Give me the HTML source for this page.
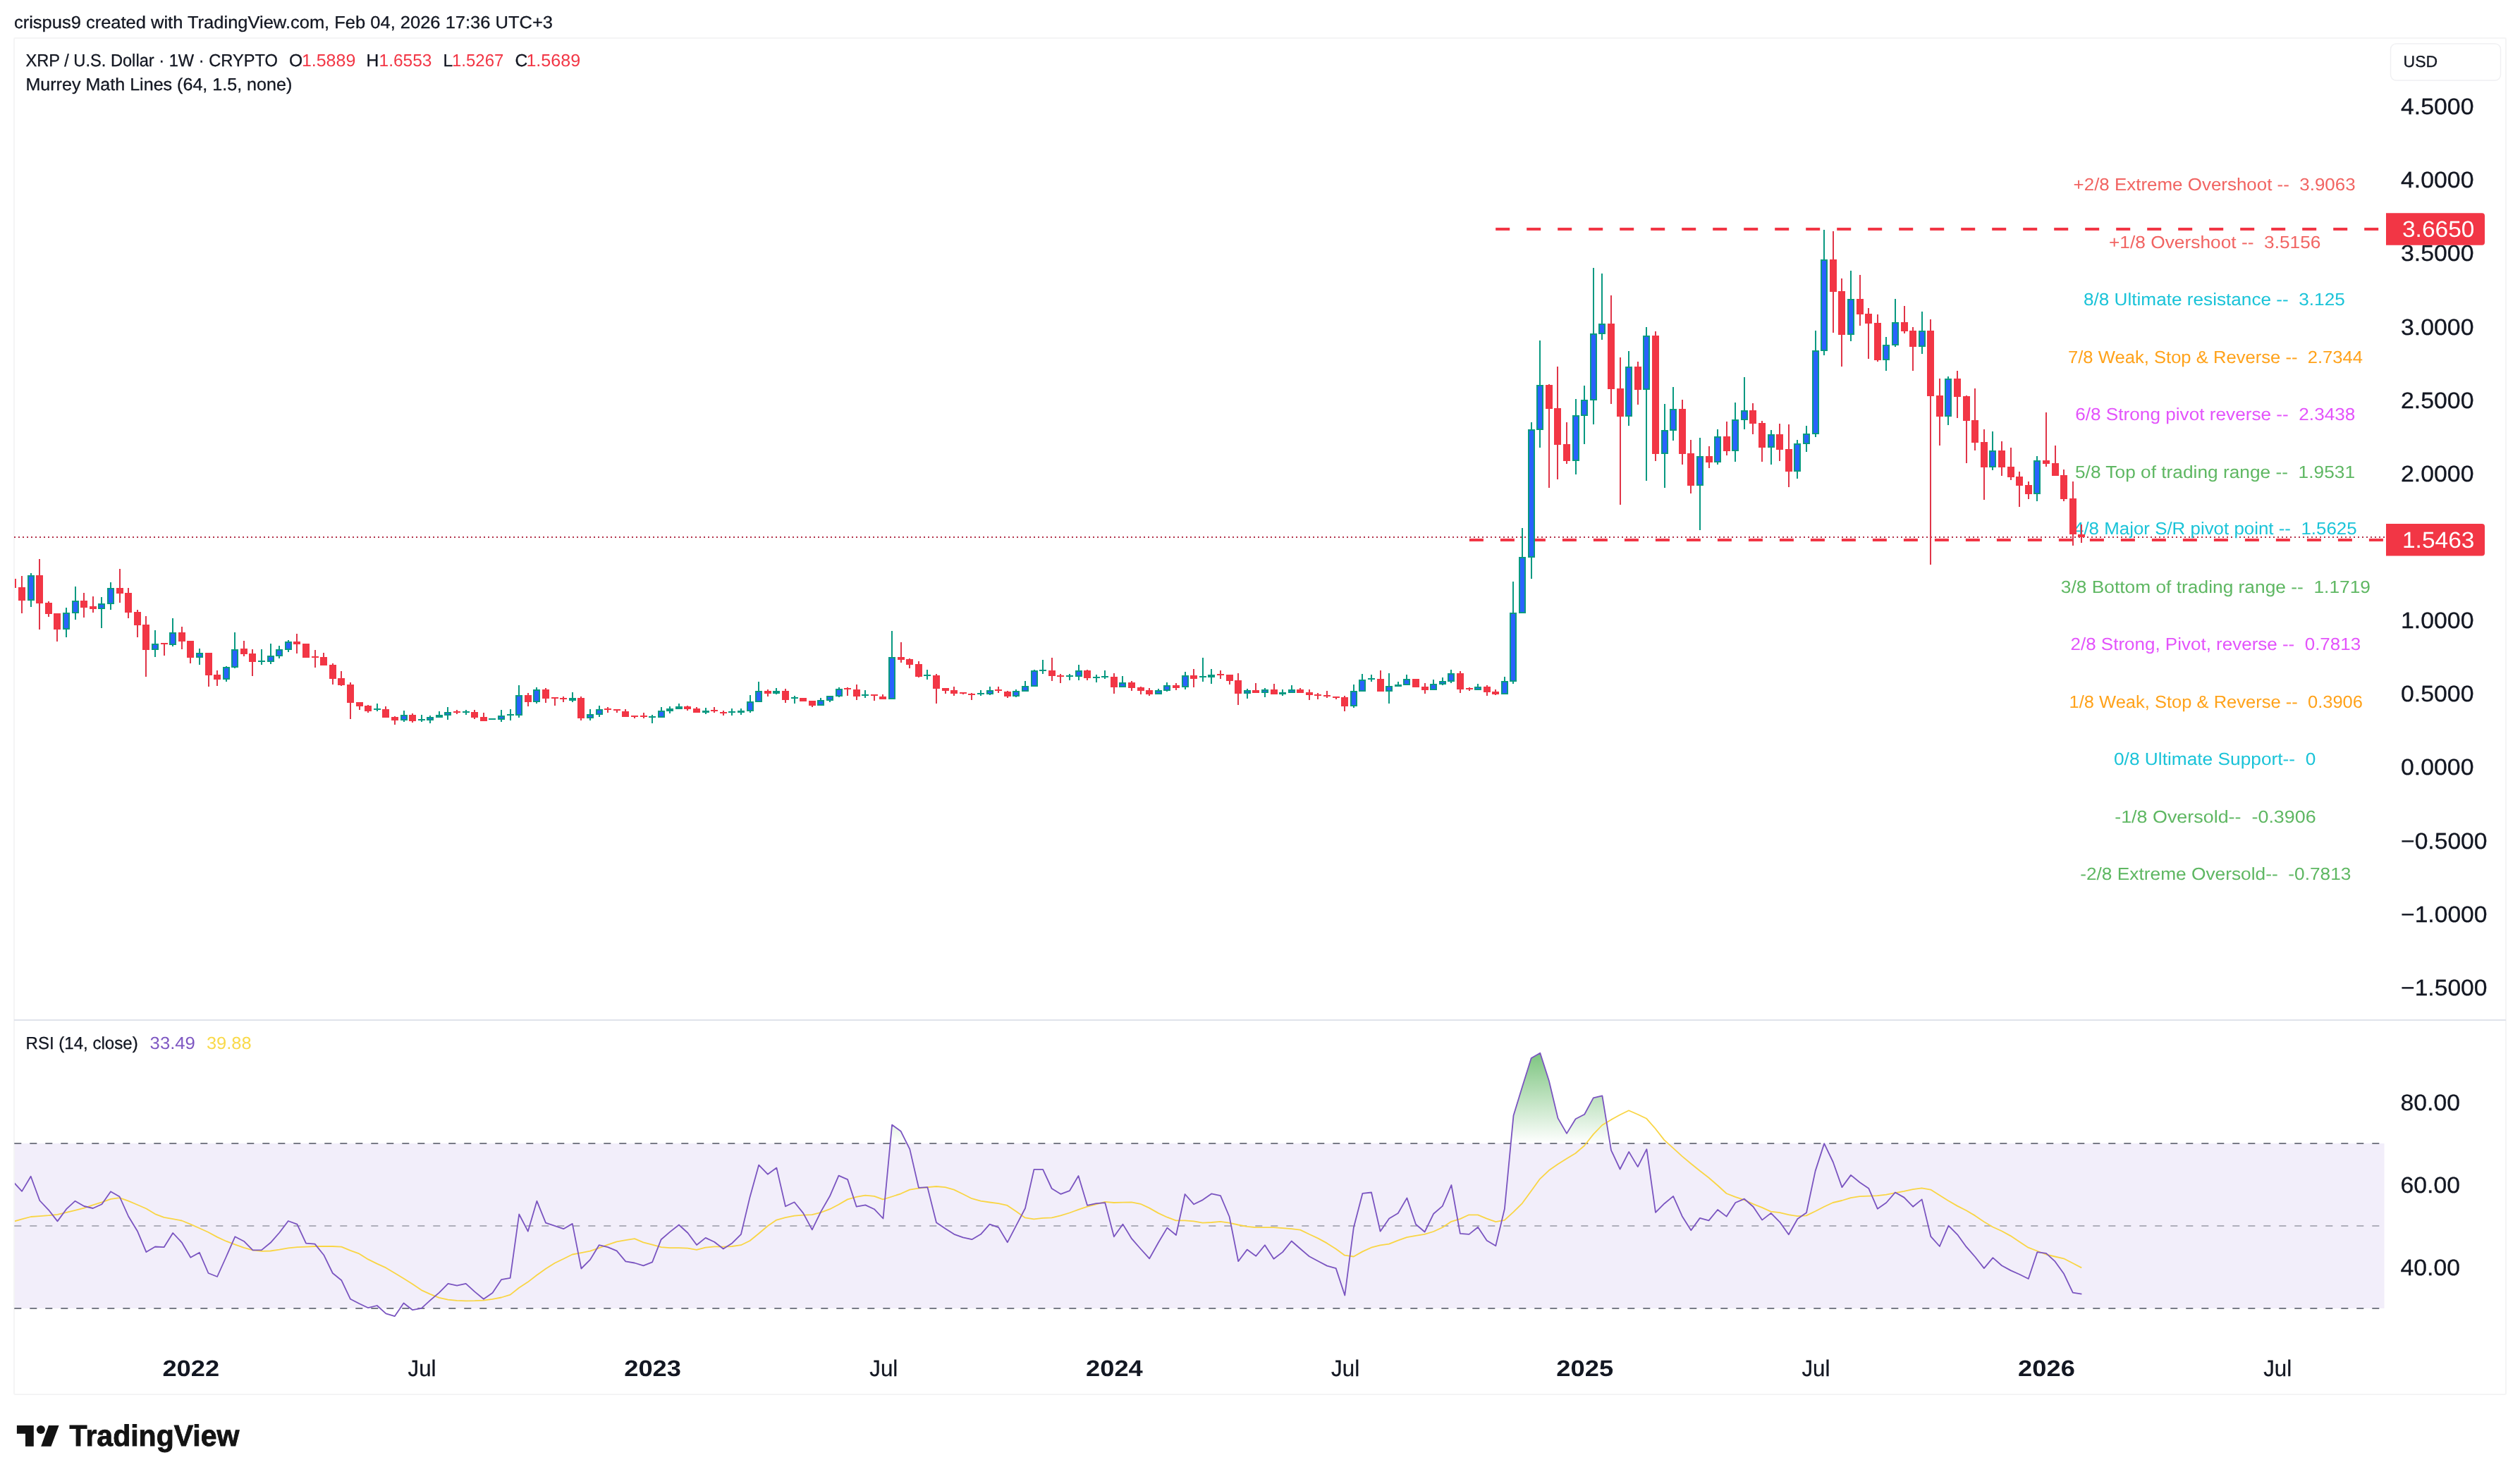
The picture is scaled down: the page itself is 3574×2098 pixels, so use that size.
<!DOCTYPE html>
<html lang="en"><head><meta charset="utf-8"><title>XRP / U.S. Dollar - TradingView</title>
<style>html,body{margin:0;padding:0;background:#fff}body{width:3574px;height:2098px;overflow:hidden}svg{display:block;will-change:transform}</style>
</head><body>
<svg width="3574" height="2098" viewBox="0 0 3574 2098" font-family='"Liberation Sans", sans-serif' text-rendering="geometricPrecision" style="white-space:pre">
<rect x="20" y="54" width="3534" height="1924" fill="#fff" stroke="#f4f4f5" stroke-width="2" rx="2"/>
<text x="19.9" y="39.7" font-size="24.6" fill="#131722" stroke="#131722" stroke-width="0.3" textLength="764.1" lengthAdjust="spacingAndGlyphs" xml:space="preserve">crispus9 created with TradingView.com, Feb 04, 2026 17:36 UTC+3</text>
<rect x="20" y="1446" width="3534" height="2" fill="#e0e3eb"/>
<rect x="21" y="1621.9" width="3360.5" height="234.0" fill="#f2eefa"/>
<clipPath id="cp"><rect x="21" y="55" width="3360.5" height="1924"/></clipPath>
<linearGradient id="gg" gradientUnits="userSpaceOnUse" x1="0" y1="1446" x2="0" y2="1622"><stop offset="0" stop-color="#4caf50" stop-opacity="1"/><stop offset="1" stop-color="#4caf50" stop-opacity="0"/></linearGradient>
<polygon fill="url(#gg)" points="1262.6,1621.9 1265.1,1595.6 1277.7,1604.8 1286.2,1621.9"/>
<polygon fill="url(#gg)" points="2142.8,1621.9 2146.5,1582.6 2159.1,1541.3 2171.7,1501.0 2184.3,1493.7 2196.9,1533.2 2209.5,1586.1 2222.0,1607.9 2234.6,1587.2 2247.2,1580.8 2259.8,1557.4 2272.4,1554.4 2283.4,1621.9"/>
<line x1="20.3" y1="1621.9" x2="3376" y2="1621.9" stroke="#787b86" stroke-width="2" stroke-dasharray="10 12"/>
<line x1="20.3" y1="1738.9" x2="3376" y2="1738.9" stroke="#787b86" stroke-opacity="0.55" stroke-width="2" stroke-dasharray="10 12"/>
<line x1="20.3" y1="1855.9" x2="3376" y2="1855.9" stroke="#787b86" stroke-width="2" stroke-dasharray="10 12"/>
<g clip-path="url(#cp)">
<polyline fill="none" stroke="#f9d544" stroke-width="1.8" stroke-linejoin="round" points="18.5,1732.9 31.1,1729.4 43.8,1726.0 56.2,1725.1 68.9,1724.1 81.5,1722.8 94.1,1719.8 106.6,1716.8 119.2,1713.6 131.8,1709.4 144.5,1705.3 157.1,1700.9 169.5,1699.1 182.2,1703.7 194.8,1709.0 207.5,1714.5 219.9,1722.1 232.5,1726.9 245.2,1729.2 257.8,1731.5 270.2,1736.6 282.9,1742.3 295.5,1748.0 308.2,1754.9 320.8,1760.7 333.2,1765.3 345.9,1769.9 358.5,1773.3 371.1,1774.9 383.6,1774.5 396.2,1772.6 408.9,1770.3 421.5,1769.2 433.9,1768.7 446.6,1768.0 459.2,1768.0 471.8,1768.0 484.3,1768.7 496.9,1773.8 509.4,1778.4 522.1,1786.4 534.7,1792.6 547.4,1798.4 560.0,1806.0 572.4,1813.6 585.1,1821.6 597.7,1830.1 610.3,1835.9 622.8,1840.9 635.4,1843.7 648.0,1844.8 660.7,1845.3 673.3,1845.1 685.7,1844.6 698.4,1842.8 711.0,1840.5 723.7,1836.6 736.1,1826.7 748.7,1818.6 761.4,1808.7 774.0,1799.8 786.7,1791.7 799.1,1785.7 811.7,1779.5 824.4,1777.2 837.0,1774.7 849.4,1770.3 862.1,1765.7 874.7,1761.4 887.4,1759.1 900.0,1757.2 912.4,1762.3 925.1,1765.7 937.7,1769.2 950.3,1770.1 962.8,1770.1 975.4,1770.6 988.0,1772.9 1000.6,1769.7 1013.2,1768.3 1025.6,1768.7 1038.3,1768.0 1050.9,1766.2 1063.6,1760.0 1076.2,1749.7 1088.6,1739.3 1101.3,1730.6 1113.9,1727.1 1126.6,1724.6 1139.0,1723.7 1151.6,1723.2 1164.3,1719.8 1176.9,1715.2 1189.3,1708.7 1202.0,1701.4 1214.6,1697.9 1227.2,1695.6 1239.9,1696.8 1252.3,1701.4 1264.9,1697.5 1277.6,1693.3 1290.2,1687.6 1302.6,1685.7 1315.3,1684.1 1327.9,1683.0 1340.6,1684.1 1353.0,1687.6 1365.6,1693.8 1378.3,1700.2 1390.9,1703.7 1403.6,1705.5 1416.0,1707.1 1428.6,1709.9 1441.3,1718.6 1453.9,1727.4 1466.3,1729.4 1479.0,1727.8 1491.7,1727.4 1504.1,1724.4 1516.8,1720.5 1529.4,1715.9 1542.1,1711.7 1554.5,1708.3 1567.1,1704.8 1579.8,1706.0 1592.4,1705.7 1604.8,1705.3 1617.5,1707.8 1630.1,1713.6 1642.8,1720.9 1655.4,1726.7 1667.8,1731.3 1680.5,1731.3 1693.1,1732.4 1705.7,1734.7 1718.2,1734.0 1730.8,1732.9 1743.4,1734.7 1756.1,1737.5 1768.5,1739.8 1781.1,1741.1 1793.8,1741.1 1806.4,1741.1 1819.1,1742.1 1831.5,1743.2 1844.1,1744.6 1856.8,1750.8 1869.4,1756.6 1881.8,1763.4 1894.5,1771.5 1907.1,1780.7 1919.8,1782.5 1932.4,1775.4 1944.8,1769.7 1957.5,1766.4 1970.0,1764.7 1982.6,1759.7 1995.3,1755.1 2007.9,1752.8 2020.3,1750.9 2033.0,1747.0 2045.6,1741.3 2058.3,1732.8 2070.7,1729.1 2083.3,1723.3 2096.0,1723.3 2108.6,1728.6 2121.3,1733.2 2133.7,1730.9 2146.3,1719.4 2159.0,1706.8 2171.6,1689.5 2184.0,1672.3 2196.7,1660.3 2209.3,1651.6 2222.0,1643.6 2234.4,1636.0 2247.0,1625.2 2259.7,1609.1 2272.3,1596.0 2284.9,1588.4 2297.4,1581.5 2310.0,1575.3 2322.6,1580.8 2335.3,1586.8 2347.7,1601.0 2360.3,1617.1 2373.0,1628.6 2385.6,1640.1 2398.0,1650.5 2410.7,1660.8 2423.3,1670.5 2436.0,1681.5 2448.6,1693.0 2461.1,1697.9 2473.8,1702.1 2486.2,1707.8 2498.9,1712.9 2511.5,1718.6 2524.1,1720.2 2536.8,1723.2 2549.2,1725.1 2561.8,1724.4 2574.5,1718.2 2587.1,1711.7 2599.5,1706.0 2612.2,1703.0 2624.8,1699.1 2637.5,1697.2 2649.9,1696.6 2662.5,1696.1 2675.2,1694.7 2687.8,1692.2 2700.2,1689.9 2712.9,1687.1 2725.5,1685.3 2738.2,1687.6 2750.8,1695.6 2763.2,1703.2 2775.9,1710.6 2788.5,1717.0 2801.1,1724.4 2813.6,1732.9 2826.2,1740.5 2838.9,1746.2 2851.5,1753.1 2864.1,1761.6 2876.6,1769.7 2889.2,1774.5 2901.8,1779.5 2914.5,1782.5 2926.9,1785.3 2939.5,1791.7 2952.2,1798.4"/>
<polyline fill="none" stroke="#7a54c0" stroke-width="1.8" stroke-linejoin="round" points="18.5,1676.1 31.1,1689.9 43.7,1668.7 56.3,1703.0 68.9,1716.3 81.5,1732.4 94.1,1715.2 106.6,1703.7 119.2,1711.0 131.8,1714.0 144.4,1708.3 157.0,1690.3 169.6,1697.5 182.2,1725.5 194.8,1746.2 207.4,1776.1 220.0,1768.5 232.6,1769.2 245.2,1749.0 257.7,1762.3 270.3,1783.7 282.9,1776.8 295.5,1806.0 308.1,1811.0 320.7,1783.0 333.3,1754.3 345.9,1760.7 358.5,1773.3 371.1,1773.1 383.7,1762.8 396.3,1748.5 408.8,1732.0 421.4,1736.6 434.0,1763.7 446.6,1764.6 459.2,1780.2 471.8,1806.0 484.4,1816.3 497.0,1842.8 509.6,1849.2 522.2,1855.2 534.8,1852.0 547.4,1863.4 559.9,1867.1 572.5,1848.5 585.1,1858.2 597.7,1855.9 610.3,1844.4 622.9,1833.6 635.5,1820.9 648.1,1823.7 660.7,1820.9 673.3,1832.4 685.9,1842.8 698.5,1834.0 711.0,1815.2 723.6,1812.9 736.2,1722.5 748.8,1746.7 761.4,1703.7 774.0,1734.7 786.6,1738.9 799.2,1743.2 811.8,1735.9 824.4,1799.5 837.0,1786.9 849.6,1766.2 862.1,1769.2 874.7,1774.3 887.3,1789.4 899.9,1791.5 912.5,1795.4 925.1,1790.3 937.7,1758.2 950.3,1747.4 962.9,1737.5 975.5,1749.0 988.1,1766.0 1000.7,1755.9 1013.2,1761.8 1025.8,1771.5 1038.4,1763.4 1051.0,1750.8 1063.6,1697.9 1076.2,1652.6 1088.8,1665.7 1101.4,1656.6 1114.0,1711.3 1126.6,1705.3 1139.2,1720.9 1151.8,1744.4 1164.3,1718.6 1176.9,1696.8 1189.5,1667.6 1202.1,1673.1 1214.7,1711.7 1227.3,1709.4 1239.9,1715.2 1252.5,1728.5 1265.1,1595.6 1277.7,1604.8 1290.3,1630.1 1302.9,1684.8 1315.4,1684.1 1328.0,1734.3 1340.6,1742.8 1353.2,1750.8 1365.8,1755.4 1378.4,1758.2 1391.0,1750.8 1403.6,1736.6 1416.2,1741.1 1428.8,1762.3 1441.4,1738.2 1454.0,1714.0 1466.5,1658.9 1479.1,1658.9 1491.7,1686.0 1504.3,1693.8 1516.9,1689.2 1529.5,1668.0 1542.1,1709.9 1554.7,1707.1 1567.3,1706.2 1579.9,1754.3 1592.5,1736.6 1605.1,1757.2 1617.6,1771.5 1630.2,1785.3 1642.8,1762.8 1655.4,1741.6 1668.0,1752.0 1680.6,1694.0 1693.2,1708.3 1705.8,1702.1 1718.4,1693.3 1731.0,1696.1 1743.6,1726.0 1756.2,1789.2 1768.7,1772.6 1781.3,1781.8 1793.9,1766.2 1806.5,1785.7 1819.1,1776.1 1831.7,1760.5 1844.3,1771.5 1856.9,1782.3 1869.5,1789.0 1882.1,1795.6 1894.7,1799.1 1907.3,1837.5 1919.8,1741.6 1932.4,1692.9 1945.0,1691.5 1957.6,1746.7 1970.2,1728.6 1982.8,1721.0 1995.4,1699.4 2008.0,1736.7 2020.6,1747.5 2033.2,1721.7 2045.8,1710.9 2058.4,1681.0 2070.9,1749.8 2083.5,1750.9 2096.1,1740.8 2108.7,1759.7 2121.3,1767.2 2133.9,1714.8 2146.5,1582.6 2159.1,1541.3 2171.7,1501.0 2184.3,1493.7 2196.9,1533.2 2209.5,1586.1 2222.0,1607.9 2234.6,1587.2 2247.2,1580.8 2259.8,1557.4 2272.4,1554.4 2285.0,1631.6 2297.6,1658.5 2310.2,1633.9 2322.8,1655.1 2335.4,1630.2 2348.0,1719.9 2360.6,1707.2 2373.1,1696.9 2385.7,1725.2 2398.3,1745.2 2410.9,1727.9 2423.5,1731.4 2436.1,1716.0 2448.7,1725.6 2461.3,1706.0 2473.9,1700.7 2486.5,1711.7 2499.1,1730.6 2511.7,1720.9 2524.2,1733.6 2536.8,1751.3 2549.4,1729.0 2562.0,1720.2 2574.6,1661.1 2587.2,1622.1 2599.8,1648.5 2612.4,1684.1 2625.0,1666.9 2637.6,1677.2 2650.2,1685.7 2662.8,1714.7 2675.3,1706.0 2687.9,1691.5 2700.5,1698.6 2713.1,1711.7 2725.7,1701.4 2738.3,1753.8 2750.9,1768.0 2763.5,1738.6 2776.1,1751.3 2788.7,1768.7 2801.3,1783.0 2813.9,1799.1 2826.4,1784.1 2839.0,1795.2 2851.6,1802.1 2864.2,1807.8 2876.8,1814.0 2889.4,1776.1 2902.0,1777.9 2914.6,1789.4 2927.2,1807.1 2939.8,1833.6 2952.4,1835.6"/>
</g>
<line x1="20" y1="762" x2="3382" y2="762" stroke="#b3324a" stroke-width="2" stroke-dasharray="2 4" shape-rendering="crispEdges"/>
<path d="M2121.2 325.0H2141.2M2165.2 325.0H2185.2M2209.2 325.0H2229.2M2253.2 325.0H2273.2M2297.2 325.0H2317.2M2341.2 325.0H2361.2M2385.2 325.0H2405.2M2429.2 325.0H2449.2M2473.2 325.0H2493.2M2517.2 325.0H2537.2M2561.2 325.0H2581.2M2605.2 325.0H2625.2M2649.2 325.0H2669.2M2693.2 325.0H2713.2M2737.2 325.0H2757.2M2781.2 325.0H2801.2M2825.2 325.0H2845.2M2869.2 325.0H2889.2M2913.2 325.0H2933.2M2957.2 325.0H2977.2M3001.2 325.0H3021.2M3045.2 325.0H3065.2M3089.2 325.0H3109.2M3133.2 325.0H3153.2M3177.2 325.0H3197.2M3221.2 325.0H3241.2M3265.2 325.0H3285.2M3309.2 325.0H3329.2M3353.2 325.0H3373.2" stroke="#f23645" stroke-width="4" fill="none"/>
<path d="M2083.9 766.0H2103.9M2127.9 766.0H2147.9M2171.9 766.0H2191.9M2215.9 766.0H2235.9M2259.9 766.0H2279.9M2303.9 766.0H2323.9M2347.9 766.0H2367.9M2391.9 766.0H2411.9M2435.9 766.0H2455.9M2479.9 766.0H2499.9M2523.9 766.0H2543.9M2567.9 766.0H2587.9M2611.9 766.0H2631.9M2655.9 766.0H2675.9M2699.9 766.0H2719.9M2743.9 766.0H2763.9M2787.9 766.0H2807.9M2831.9 766.0H2851.9M2875.9 766.0H2895.9M2919.9 766.0H2939.9M2963.9 766.0H2983.9M3007.9 766.0H3027.9M3051.9 766.0H3071.9M3095.9 766.0H3115.9M3139.9 766.0H3159.9M3183.9 766.0H3203.9M3227.9 766.0H3247.9M3271.9 766.0H3291.9M3315.9 766.0H3335.9M3359.9 766.0H3379.9" stroke="#f23645" stroke-width="4" fill="none"/>
<text x="2940.6" y="270.0" font-size="24.7" fill="#f16462" textLength="400.0" lengthAdjust="spacingAndGlyphs" xml:space="preserve">+2/8 Extreme Overshoot --  3.9063</text>
<text x="2991.0" y="351.5" font-size="24.7" fill="#f16462" textLength="300.5" lengthAdjust="spacingAndGlyphs" xml:space="preserve">+1/8 Overshoot --  3.5156</text>
<text x="2954.9" y="433.0" font-size="24.7" fill="#1ac3d8" textLength="370.9" lengthAdjust="spacingAndGlyphs" xml:space="preserve">8/8 Ultimate resistance --  3.125</text>
<text x="2933.0" y="514.5" font-size="24.7" fill="#ffa21a" textLength="418.0" lengthAdjust="spacingAndGlyphs" xml:space="preserve">7/8 Weak, Stop &amp; Reverse --  2.7344</text>
<text x="2943.2" y="596.0" font-size="24.7" fill="#e353fb" textLength="397.2" lengthAdjust="spacingAndGlyphs" xml:space="preserve">6/8 Strong pivot reverse --  2.3438</text>
<text x="2943.0" y="677.5" font-size="24.7" fill="#5eb762" textLength="397.0" lengthAdjust="spacingAndGlyphs" xml:space="preserve">5/8 Top of trading range --  1.9531</text>
<text x="2941.0" y="758.3" font-size="24.7" fill="#1ac3d8" textLength="401.6" lengthAdjust="spacingAndGlyphs" xml:space="preserve">4/8 Major S/R pivot point --  1.5625</text>
<text x="2922.8" y="840.5" font-size="24.7" fill="#5eb762" textLength="439.2" lengthAdjust="spacingAndGlyphs" xml:space="preserve">3/8 Bottom of trading range --  1.1719</text>
<text x="2936.5" y="922.0" font-size="24.7" fill="#e353fb" textLength="411.7" lengthAdjust="spacingAndGlyphs" xml:space="preserve">2/8 Strong, Pivot, reverse --  0.7813</text>
<text x="2934.5" y="1003.5" font-size="24.7" fill="#ffa21a" textLength="416.5" lengthAdjust="spacingAndGlyphs" xml:space="preserve">1/8 Weak, Stop &amp; Reverse --  0.3906</text>
<text x="2998.0" y="1085.0" font-size="24.7" fill="#1ac3d8" textLength="286.3" lengthAdjust="spacingAndGlyphs" xml:space="preserve">0/8 Ultimate Support--  0</text>
<text x="2999.2" y="1166.5" font-size="24.7" fill="#5eb762" textLength="285.5" lengthAdjust="spacingAndGlyphs" xml:space="preserve">-1/8 Oversold--  -0.3906</text>
<text x="2950.2" y="1248.0" font-size="24.7" fill="#5eb762" textLength="384.3" lengthAdjust="spacingAndGlyphs" xml:space="preserve">-2/8 Extreme Oversold--  -0.7813</text>
<g clip-path="url(#cp)" shape-rendering="crispEdges">
<path fill="#e03548" d="M17 821h2V834h-2zM30 817h2V870h-2zM55 793h2V893h-2zM68 853h2V875h-2zM80 870h2V910h-2zM118 841h2V876h-2zM131 846h2V869h-2zM169 807h2V855h-2zM181 834h2V877h-2zM194 865h2V904h-2zM206 874h2V960h-2zM232 912h2V930h-2zM257 889h2V921h-2zM269 909h2V941h-2zM295 926h2V974h-2zM307 951h2V973h-2zM345 909h2V931h-2zM357 921h2V959h-2zM420 899h2V927h-2zM433 913h2V933h-2zM446 922h2V947h-2zM458 926h2V944h-2zM471 941h2V971h-2zM483 952h2V973h-2zM496 968h2V1020h-2zM509 996h2V1007h-2zM521 1000h2V1011h-2zM546 1002h2V1018h-2zM559 1016h2V1028h-2zM584 1012h2V1025h-2zM647 1007h2V1013h-2zM672 1007h2V1020h-2zM685 1011h2V1023h-2zM748 983h2V1002h-2zM773 976h2V997h-2zM786 989h2V1001h-2zM798 988h2V996h-2zM823 988h2V1022h-2zM861 1003h2V1011h-2zM874 1006h2V1011h-2zM886 1006h2V1017h-2zM899 1015h2V1019h-2zM912 1011h2V1019h-2zM974 1001h2V1008h-2zM987 1003h2V1011h-2zM1012 1003h2V1011h-2zM1025 1008h2V1015h-2zM1088 978h2V988h-2zM1113 977h2V997h-2zM1138 990h2V995h-2zM1151 994h2V1003h-2zM1201 975h2V987h-2zM1214 971h2V993h-2zM1239 985h2V994h-2zM1251 985h2V992h-2zM1277 911h2V940h-2zM1289 934h2V948h-2zM1302 938h2V961h-2zM1327 956h2V998h-2zM1340 976h2V984h-2zM1352 974h2V987h-2zM1365 982h2V985h-2zM1377 983h2V993h-2zM1415 974h2V983h-2zM1428 980h2V990h-2zM1491 933h2V966h-2zM1503 956h2V969h-2zM1541 950h2V965h-2zM1579 955h2V984h-2zM1604 966h2V980h-2zM1617 974h2V985h-2zM1629 976h2V987h-2zM1667 969h2V979h-2zM1692 949h2V975h-2zM1730 951h2V963h-2zM1743 957h2V971h-2zM1755 955h2V1000h-2zM1780 969h2V983h-2zM1806 970h2V985h-2zM1843 976h2V983h-2zM1856 978h2V993h-2zM1868 983h2V992h-2zM1881 980h2V990h-2zM1894 988h2V992h-2zM1906 987h2V1009h-2zM1957 951h2V981h-2zM2007 963h2V975h-2zM2020 969h2V984h-2zM2070 952h2V983h-2zM2083 975h2V980h-2zM2108 972h2V987h-2zM2120 978h2V986h-2zM2196 545h2V692h-2zM2208 520h2V680h-2zM2221 599h2V658h-2zM2284 419h2V573h-2zM2297 507h2V716h-2zM2322 513h2V574h-2zM2347 470h2V654h-2zM2385 567h2V659h-2zM2397 624h2V700h-2zM2423 633h2V664h-2zM2448 598h2V646h-2zM2485 572h2V616h-2zM2498 597h2V655h-2zM2523 601h2V654h-2zM2536 602h2V691h-2zM2599 328h2V472h-2zM2611 395h2V520h-2zM2637 390h2V462h-2zM2649 437h2V509h-2zM2662 446h2V513h-2zM2700 434h2V473h-2zM2712 464h2V526h-2zM2737 453h2V801h-2zM2750 537h2V632h-2zM2775 526h2V593h-2zM2788 561h2V657h-2zM2800 551h2V639h-2zM2813 609h2V709h-2zM2838 626h2V675h-2zM2851 635h2V681h-2zM2863 669h2V719h-2zM2876 683h2V708h-2zM2901 585h2V662h-2zM2914 632h2V675h-2zM2926 666h2V711h-2zM2939 683h2V774h-2zM2951 744h2V770h-2z"/>
<path fill="#f23645" d="M13 821h10V834h-10zM26 833h10V852h-10zM51 816h10V856h-10zM64 855h10V871h-10zM76 870h10V893h-10zM114 852h10V862h-10zM127 860h10V864h-10zM165 834h10V842h-10zM177 841h10V869h-10zM190 868h10V887h-10zM202 886h10V922h-10zM228 912h10V914h-10zM253 897h10V910h-10zM265 909h10V933h-10zM291 926h10V958h-10zM303 957h10V964h-10zM341 920h10V928h-10zM353 927h10V939h-10zM416 910h10V914h-10zM429 913h10V933h-10zM442 931h10V933h-10zM454 932h10V944h-10zM467 943h10V963h-10zM479 962h10V972h-10zM492 971h10V997h-10zM505 996h10V1002h-10zM517 1001h10V1009h-10zM542 1006h10V1018h-10zM555 1017h10V1022h-10zM580 1014h10V1023h-10zM643 1009h10V1011h-10zM668 1010h10V1018h-10zM681 1017h10V1023h-10zM744 986h10V996h-10zM769 978h10V991h-10zM782 989h10V991h-10zM794 990h10V992h-10zM819 990h10V1019h-10zM857 1005h10V1007h-10zM870 1006h10V1008h-10zM882 1009h10V1017h-10zM895 1015h10V1017h-10zM908 1015h10V1017h-10zM970 1002h10V1006h-10zM983 1005h10V1011h-10zM1008 1007h10V1009h-10zM1021 1010h10V1012h-10zM1084 980h10V984h-10zM1109 980h10V993h-10zM1134 990h10V995h-10zM1147 994h10V1001h-10zM1197 976h10V978h-10zM1210 978h10V988h-10zM1235 985h10V987h-10zM1247 988h10V992h-10zM1273 932h10V936h-10zM1285 935h10V943h-10zM1298 942h10V960h-10zM1323 958h10V977h-10zM1336 976h10V980h-10zM1348 979h10V984h-10zM1361 982h10V984h-10zM1373 984h10V986h-10zM1411 978h10V980h-10zM1424 981h10V988h-10zM1487 951h10V959h-10zM1499 958h10V960h-10zM1537 951h10V962h-10zM1575 960h10V975h-10zM1600 968h10V976h-10zM1613 975h10V980h-10zM1625 979h10V985h-10zM1663 972h10V976h-10zM1688 958h10V963h-10zM1726 956h10V958h-10zM1739 957h10V966h-10zM1751 965h10V984h-10zM1776 979h10V983h-10zM1802 978h10V985h-10zM1839 978h10V983h-10zM1852 982h10V986h-10zM1864 985h10V987h-10zM1877 986h10V988h-10zM1890 988h10V990h-10zM1902 989h10V1002h-10zM1953 963h10V981h-10zM2003 963h10V975h-10zM2016 974h10V979h-10zM2066 955h10V978h-10zM2079 976h10V978h-10zM2104 974h10V982h-10zM2116 981h10V985h-10zM2192 546h10V580h-10zM2204 579h10V631h-10zM2217 630h10V654h-10zM2280 459h10V552h-10zM2293 551h10V591h-10zM2318 520h10V553h-10zM2343 476h10V644h-10zM2381 580h10V644h-10zM2393 643h10V689h-10zM2419 647h10V656h-10zM2444 619h10V640h-10zM2481 582h10V601h-10zM2494 600h10V635h-10zM2519 616h10V638h-10zM2532 637h10V669h-10zM2595 368h10V414h-10zM2607 413h10V475h-10zM2633 424h10V446h-10zM2645 445h10V459h-10zM2658 458h10V511h-10zM2696 457h10V470h-10zM2708 469h10V492h-10zM2733 469h10V562h-10zM2746 561h10V591h-10zM2771 537h10V563h-10zM2784 562h10V597h-10zM2796 596h10V628h-10zM2809 627h10V663h-10zM2834 639h10V663h-10zM2847 662h10V677h-10zM2859 676h10V689h-10zM2872 688h10V701h-10zM2897 653h10V658h-10zM2910 657h10V675h-10zM2922 674h10V708h-10zM2935 707h10V758h-10zM2947 758h10V762h-10z"/>
<path fill="#089981" d="M43 813h2V861h-2zM93 862h2V904h-2zM106 832h2V879h-2zM143 847h2V891h-2zM156 826h2V865h-2zM219 894h2V932h-2zM244 877h2V917h-2zM282 920h2V943h-2zM320 945h2V967h-2zM332 897h2V948h-2zM370 921h2V943h-2zM383 913h2V942h-2zM395 916h2V934h-2zM408 908h2V925h-2zM534 998h2V1009h-2zM572 1008h2V1024h-2zM597 1014h2V1024h-2zM609 1015h2V1026h-2zM622 1009h2V1018h-2zM634 1003h2V1021h-2zM660 1007h2V1014h-2zM697 1019h2V1021h-2zM710 1007h2V1024h-2zM723 1006h2V1022h-2zM735 972h2V1018h-2zM760 975h2V998h-2zM811 982h2V996h-2zM836 1006h2V1022h-2zM849 1001h2V1017h-2zM924 1014h2V1026h-2zM937 1003h2V1018h-2zM949 1002h2V1012h-2zM962 998h2V1006h-2zM1000 1004h2V1013h-2zM1037 1005h2V1015h-2zM1050 1005h2V1014h-2zM1063 986h2V1011h-2zM1075 967h2V996h-2zM1100 976h2V985h-2zM1126 987h2V998h-2zM1163 990h2V1001h-2zM1176 987h2V996h-2zM1189 975h2V989h-2zM1226 979h2V990h-2zM1264 895h2V992h-2zM1314 950h2V964h-2zM1390 979h2V987h-2zM1403 974h2V986h-2zM1440 978h2V989h-2zM1453 966h2V981h-2zM1466 950h2V974h-2zM1478 936h2V956h-2zM1516 956h2V965h-2zM1529 943h2V965h-2zM1554 957h2V968h-2zM1566 951h2V963h-2zM1591 959h2V975h-2zM1642 977h2V985h-2zM1654 968h2V981h-2zM1680 953h2V978h-2zM1705 933h2V967h-2zM1717 949h2V970h-2zM1768 977h2V991h-2zM1793 976h2V989h-2zM1818 978h2V987h-2zM1831 972h2V983h-2zM1919 971h2V1004h-2zM1931 956h2V981h-2zM1944 957h2V967h-2zM1969 955h2V998h-2zM1982 967h2V974h-2zM1994 957h2V972h-2zM2032 964h2V979h-2zM2045 961h2V972h-2zM2057 950h2V969h-2zM2095 970h2V979h-2zM2133 960h2V985h-2zM2145 825h2V970h-2zM2158 749h2V870h-2zM2171 599h2V821h-2zM2183 483h2V635h-2zM2234 566h2V673h-2zM2246 547h2V630h-2zM2259 380h2V602h-2zM2271 388h2V482h-2zM2309 498h2V604h-2zM2334 464h2V682h-2zM2360 573h2V692h-2zM2372 549h2V625h-2zM2410 621h2V752h-2zM2435 609h2V659h-2zM2460 571h2V655h-2zM2473 535h2V609h-2zM2511 610h2V659h-2zM2548 624h2V679h-2zM2561 604h2V641h-2zM2574 469h2V620h-2zM2586 326h2V504h-2zM2624 384h2V484h-2zM2674 478h2V526h-2zM2687 424h2V492h-2zM2725 442h2V502h-2zM2762 534h2V603h-2zM2825 612h2V667h-2zM2888 647h2V711h-2zM39 816h10V852h-10zM89 869h10V893h-10zM102 852h10V870h-10zM139 856h10V864h-10zM152 834h10V857h-10zM215 913h10V922h-10zM240 897h10V915h-10zM278 926h10V933h-10zM316 946h10V964h-10zM328 921h10V947h-10zM366 937h10V939h-10zM379 930h10V939h-10zM391 921h10V931h-10zM404 910h10V922h-10zM530 1005h10V1007h-10zM568 1014h10V1022h-10zM593 1020h10V1022h-10zM605 1017h10V1022h-10zM618 1014h10V1018h-10zM630 1010h10V1015h-10zM656 1009h10V1011h-10zM693 1019h10V1021h-10zM706 1015h10V1021h-10zM719 1013h10V1015h-10zM731 986h10V1015h-10zM756 978h10V996h-10zM807 990h10V994h-10zM832 1013h10V1019h-10zM845 1006h10V1014h-10zM920 1016h10V1018h-10zM933 1008h10V1018h-10zM945 1005h10V1009h-10zM958 1002h10V1006h-10zM996 1008h10V1011h-10zM1033 1009h10V1011h-10zM1046 1008h10V1011h-10zM1059 995h10V1009h-10zM1071 980h10V996h-10zM1096 980h10V984h-10zM1122 989h10V991h-10zM1159 993h10V1001h-10zM1172 987h10V994h-10zM1185 977h10V988h-10zM1222 985h10V987h-10zM1260 932h10V992h-10zM1310 957h10V959h-10zM1386 983h10V985h-10zM1399 979h10V985h-10zM1436 980h10V988h-10zM1449 973h10V981h-10zM1462 951h10V974h-10zM1474 950h10V952h-10zM1512 958h10V960h-10zM1525 951h10V960h-10zM1550 960h10V962h-10zM1562 959h10V961h-10zM1587 968h10V975h-10zM1638 979h10V985h-10zM1650 972h10V980h-10zM1676 958h10V975h-10zM1701 959h10V961h-10zM1713 957h10V961h-10zM1764 979h10V984h-10zM1789 978h10V983h-10zM1814 982h10V985h-10zM1827 978h10V983h-10zM1915 980h10V1002h-10zM1927 964h10V981h-10zM1940 962h10V964h-10zM1965 973h10V981h-10zM1978 971h10V974h-10zM1990 963h10V972h-10zM2028 970h10V979h-10zM2041 966h10V971h-10zM2053 955h10V967h-10zM2091 974h10V979h-10zM2129 966h10V985h-10zM2141 869h10V967h-10zM2154 790h10V870h-10zM2167 609h10V791h-10zM2179 546h10V610h-10zM2230 589h10V654h-10zM2242 567h10V590h-10zM2255 473h10V568h-10zM2267 459h10V474h-10zM2305 520h10V591h-10zM2330 476h10V553h-10zM2356 610h10V644h-10zM2368 580h10V611h-10zM2406 647h10V689h-10zM2431 619h10V656h-10zM2456 595h10V640h-10zM2469 582h10V596h-10zM2507 616h10V635h-10zM2544 629h10V669h-10zM2557 615h10V630h-10zM2570 497h10V616h-10zM2582 368h10V498h-10zM2620 424h10V475h-10zM2670 489h10V511h-10zM2683 457h10V490h-10zM2721 469h10V492h-10zM2758 537h10V591h-10zM2821 639h10V663h-10zM2884 653h10V701h-10z"/>
<path fill="#2962ff" d="M41 818h6V850h-6zM91 871h6V891h-6zM104 854h6V868h-6zM141 858h6V862h-6zM154 836h6V855h-6zM217 915h6V920h-6zM242 899h6V913h-6zM280 928h6V931h-6zM318 948h6V962h-6zM330 923h6V945h-6zM381 932h6V937h-6zM393 923h6V929h-6zM406 912h6V920h-6zM570 1016h6V1020h-6zM607 1019h6V1020h-6zM632 1012h6V1013h-6zM708 1017h6V1019h-6zM733 988h6V1013h-6zM758 980h6V994h-6zM834 1015h6V1017h-6zM847 1008h6V1012h-6zM935 1010h6V1016h-6zM1061 997h6V1007h-6zM1073 982h6V994h-6zM1161 995h6V999h-6zM1174 989h6V992h-6zM1187 979h6V986h-6zM1262 934h6V990h-6zM1401 981h6V983h-6zM1438 982h6V986h-6zM1451 975h6V979h-6zM1464 953h6V972h-6zM1527 953h6V958h-6zM1589 970h6V973h-6zM1640 981h6V983h-6zM1652 974h6V978h-6zM1678 960h6V973h-6zM1766 981h6V982h-6zM1791 980h6V981h-6zM1829 980h6V981h-6zM1917 982h6V1000h-6zM1929 966h6V979h-6zM1967 975h6V979h-6zM1992 965h6V970h-6zM2030 972h6V977h-6zM2043 968h6V969h-6zM2055 957h6V965h-6zM2093 976h6V977h-6zM2131 968h6V983h-6zM2143 871h6V965h-6zM2156 792h6V868h-6zM2169 611h6V789h-6zM2181 548h6V608h-6zM2232 591h6V652h-6zM2244 569h6V588h-6zM2257 475h6V566h-6zM2269 461h6V472h-6zM2307 522h6V589h-6zM2332 478h6V551h-6zM2358 612h6V642h-6zM2370 582h6V609h-6zM2408 649h6V687h-6zM2433 621h6V654h-6zM2458 597h6V638h-6zM2471 584h6V594h-6zM2509 618h6V633h-6zM2546 631h6V667h-6zM2559 617h6V628h-6zM2572 499h6V614h-6zM2584 370h6V496h-6zM2622 426h6V473h-6zM2672 491h6V509h-6zM2685 459h6V488h-6zM2723 471h6V490h-6zM2760 539h6V589h-6zM2823 641h6V661h-6zM2886 655h6V699h-6z"/>
</g>
<text x="36.4" y="93.8" font-size="24.6" fill="#131722" stroke="#131722" stroke-width="0.3" textLength="357.5" lengthAdjust="spacingAndGlyphs" xml:space="preserve">XRP / U.S. Dollar · 1W · CRYPTO</text>
<text x="410.0" y="93.8" font-size="24.6" fill="#131722" stroke="#131722" stroke-width="0.3" xml:space="preserve">O</text>
<text x="427.9" y="93.8" font-size="24.6" fill="#f23645" textLength="76.4" lengthAdjust="spacingAndGlyphs" xml:space="preserve">1.5889</text>
<text x="519.6" y="93.8" font-size="24.6" fill="#131722" stroke="#131722" stroke-width="0.3" xml:space="preserve">H</text>
<text x="537.5" y="93.8" font-size="24.6" fill="#f23645" textLength="75.0" lengthAdjust="spacingAndGlyphs" xml:space="preserve">1.6553</text>
<text x="628.6" y="93.8" font-size="24.6" fill="#131722" stroke="#131722" stroke-width="0.3" xml:space="preserve">L</text>
<text x="641.0" y="93.8" font-size="24.6" fill="#f23645" textLength="73.3" lengthAdjust="spacingAndGlyphs" xml:space="preserve">1.5267</text>
<text x="730.4" y="93.8" font-size="24.6" fill="#131722" stroke="#131722" stroke-width="0.3" xml:space="preserve">C</text>
<text x="746.4" y="93.8" font-size="24.6" fill="#f23645" textLength="76.8" lengthAdjust="spacingAndGlyphs" xml:space="preserve">1.5689</text>
<text x="36.4" y="128.0" font-size="24.6" fill="#131722" stroke="#131722" stroke-width="0.3" textLength="377.9" lengthAdjust="spacingAndGlyphs" xml:space="preserve">Murrey Math Lines (64, 1.5, none)</text>
<rect x="3390.5" y="62" width="156" height="52" rx="8" fill="#fff" stroke="#f0f0f2" stroke-width="1.5"/>
<text x="3408.6" y="95.3" font-size="22.8" fill="#131722" stroke="#131722" stroke-width="0.3" textLength="48.6" lengthAdjust="spacingAndGlyphs" xml:space="preserve">USD</text>
<text x="3405.0" y="162.1" font-size="32.2" fill="#131722" stroke="#131722" stroke-width="0.3" textLength="103.5" lengthAdjust="spacingAndGlyphs" xml:space="preserve">4.5000</text>
<text x="3405.0" y="266.2" font-size="32.2" fill="#131722" stroke="#131722" stroke-width="0.3" textLength="103.5" lengthAdjust="spacingAndGlyphs" xml:space="preserve">4.0000</text>
<text x="3405.0" y="370.4" font-size="32.2" fill="#131722" stroke="#131722" stroke-width="0.3" textLength="103.5" lengthAdjust="spacingAndGlyphs" xml:space="preserve">3.5000</text>
<text x="3405.0" y="474.5" font-size="32.2" fill="#131722" stroke="#131722" stroke-width="0.3" textLength="103.5" lengthAdjust="spacingAndGlyphs" xml:space="preserve">3.0000</text>
<text x="3405.0" y="578.7" font-size="32.2" fill="#131722" stroke="#131722" stroke-width="0.3" textLength="103.5" lengthAdjust="spacingAndGlyphs" xml:space="preserve">2.5000</text>
<text x="3405.0" y="682.8" font-size="32.2" fill="#131722" stroke="#131722" stroke-width="0.3" textLength="103.5" lengthAdjust="spacingAndGlyphs" xml:space="preserve">2.0000</text>
<text x="3405.0" y="891.1" font-size="32.2" fill="#131722" stroke="#131722" stroke-width="0.3" textLength="103.5" lengthAdjust="spacingAndGlyphs" xml:space="preserve">1.0000</text>
<text x="3405.0" y="995.3" font-size="32.2" fill="#131722" stroke="#131722" stroke-width="0.3" textLength="103.5" lengthAdjust="spacingAndGlyphs" xml:space="preserve">0.5000</text>
<text x="3405.0" y="1099.4" font-size="32.2" fill="#131722" stroke="#131722" stroke-width="0.3" textLength="103.5" lengthAdjust="spacingAndGlyphs" xml:space="preserve">0.0000</text>
<text x="3405.0" y="1203.6" font-size="32.2" fill="#131722" stroke="#131722" stroke-width="0.3" textLength="122.5" lengthAdjust="spacingAndGlyphs" xml:space="preserve">−0.5000</text>
<text x="3405.0" y="1307.7" font-size="32.2" fill="#131722" stroke="#131722" stroke-width="0.3" textLength="122.5" lengthAdjust="spacingAndGlyphs" xml:space="preserve">−1.0000</text>
<text x="3405.0" y="1411.9" font-size="32.2" fill="#131722" stroke="#131722" stroke-width="0.3" textLength="122.5" lengthAdjust="spacingAndGlyphs" xml:space="preserve">−1.5000</text>
<path d="M3384 302.3H3520a4 4 0 0 1 4 4V343.8a4 4 0 0 1 -4 4H3384z" fill="#f23645"/>
<text x="3407.0" y="336.3" font-size="32.2" fill="#fff" textLength="102.4" lengthAdjust="spacingAndGlyphs" xml:space="preserve">3.6650</text>
<path d="M3384 743.0H3520a4 4 0 0 1 4 4V784.5a4 4 0 0 1 -4 4H3384z" fill="#f23645"/>
<text x="3407.0" y="777.0" font-size="32.2" fill="#fff" textLength="102.4" lengthAdjust="spacingAndGlyphs" xml:space="preserve">1.5463</text>
<text x="3404.5" y="1574.7" font-size="32.2" fill="#131722" stroke="#131722" stroke-width="0.3" textLength="84.5" lengthAdjust="spacingAndGlyphs" xml:space="preserve">80.00</text>
<text x="3404.5" y="1691.7" font-size="32.2" fill="#131722" stroke="#131722" stroke-width="0.3" textLength="84.5" lengthAdjust="spacingAndGlyphs" xml:space="preserve">60.00</text>
<text x="3404.5" y="1808.7" font-size="32.2" fill="#131722" stroke="#131722" stroke-width="0.3" textLength="84.5" lengthAdjust="spacingAndGlyphs" xml:space="preserve">40.00</text>
<text x="36.5" y="1487.5" font-size="24.6" fill="#131722" stroke="#131722" stroke-width="0.3" textLength="159.2" lengthAdjust="spacingAndGlyphs" xml:space="preserve">RSI (14, close)</text>
<text x="212.6" y="1487.5" font-size="24.6" fill="#7e57c2" textLength="64.3" lengthAdjust="spacingAndGlyphs" xml:space="preserve">33.49</text>
<text x="292.9" y="1487.5" font-size="24.6" fill="#f9d949" textLength="63.8" lengthAdjust="spacingAndGlyphs" xml:space="preserve">39.88</text>
<text x="230.4" y="1951.6" font-size="32.2" fill="#131722" font-weight="bold" textLength="80.8" lengthAdjust="spacingAndGlyphs" xml:space="preserve">2022</text>
<text x="885.2" y="1951.6" font-size="32.2" fill="#131722" font-weight="bold" textLength="80.8" lengthAdjust="spacingAndGlyphs" xml:space="preserve">2023</text>
<text x="1540.0" y="1951.6" font-size="32.2" fill="#131722" font-weight="bold" textLength="80.8" lengthAdjust="spacingAndGlyphs" xml:space="preserve">2024</text>
<text x="2207.3" y="1951.6" font-size="32.2" fill="#131722" font-weight="bold" textLength="80.8" lengthAdjust="spacingAndGlyphs" xml:space="preserve">2025</text>
<text x="2862.1" y="1951.6" font-size="32.2" fill="#131722" font-weight="bold" textLength="80.8" lengthAdjust="spacingAndGlyphs" xml:space="preserve">2026</text>
<text x="578.5" y="1951.6" font-size="32.2" fill="#131722" stroke="#131722" stroke-width="0.3" textLength="40.0" lengthAdjust="spacingAndGlyphs" xml:space="preserve">Jul</text>
<text x="1233.3" y="1951.6" font-size="32.2" fill="#131722" stroke="#131722" stroke-width="0.3" textLength="40.0" lengthAdjust="spacingAndGlyphs" xml:space="preserve">Jul</text>
<text x="1888.1" y="1951.6" font-size="32.2" fill="#131722" stroke="#131722" stroke-width="0.3" textLength="40.0" lengthAdjust="spacingAndGlyphs" xml:space="preserve">Jul</text>
<text x="2555.4" y="1951.6" font-size="32.2" fill="#131722" stroke="#131722" stroke-width="0.3" textLength="40.0" lengthAdjust="spacingAndGlyphs" xml:space="preserve">Jul</text>
<text x="3210.2" y="1951.6" font-size="32.2" fill="#131722" stroke="#131722" stroke-width="0.3" textLength="40.0" lengthAdjust="spacingAndGlyphs" xml:space="preserve">Jul</text>
<g fill="#131313"><path d="M23.9 2021.9H47.8V2051.8H36V2033.8H23.9z"/><circle cx="57.9" cy="2027.9" r="6"/><path d="M69 2021.9H83.6L72.5 2051.8H58.2z"/></g>
<text x="98.6" y="2051.3" font-size="42.2" fill="#131313" font-weight="bold" stroke="#131313" stroke-width="0.9" textLength="240.8" lengthAdjust="spacingAndGlyphs" xml:space="preserve">TradingView</text>
</svg>
</body></html>
